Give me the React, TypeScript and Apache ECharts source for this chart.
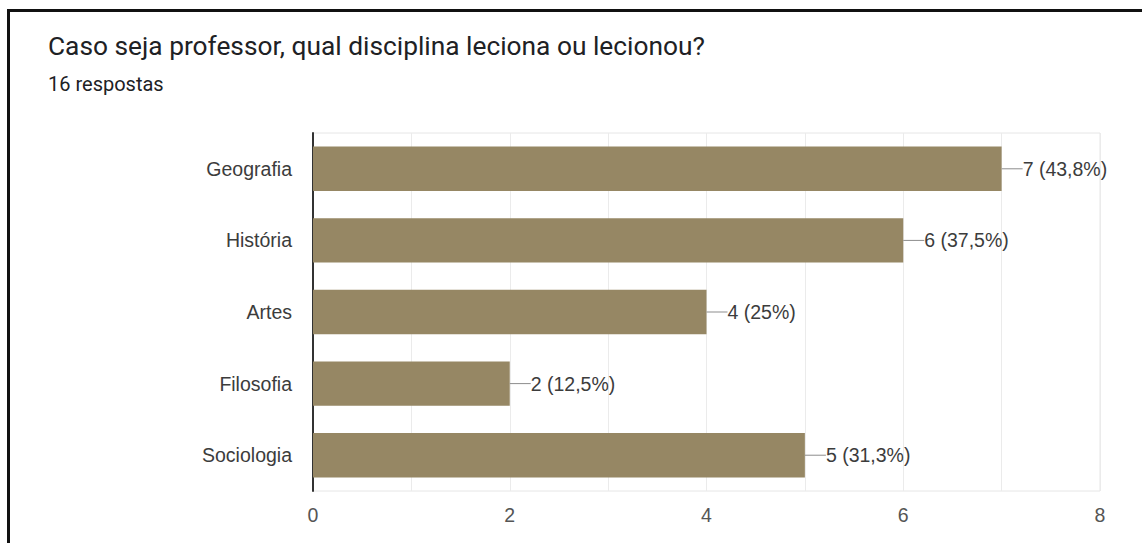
import React, { useEffect, useRef } from "react";
import * as echarts from "echarts";

const titleText = "Caso seja professor, qual disciplina leciona ou lecionou?";
const subtitleText = "16 respostas";
const categories = ["Geografia", "História", "Artes", "Filosofia", "Sociologia"];
const values = [7, 6, 4, 2, 5];
const percentLabels = ["43,8%", "37,5%", "25%", "12,5%", "31,3%"];
const xTicks = [0, 2, 4, 6, 8];

export default function App() {
  const ref = useRef<HTMLDivElement>(null);
  useEffect(() => {
    document.body.style.margin = "0";
    if (!ref.current) return;
    const chart = echarts.init(ref.current, undefined, { renderer: "svg" });
    const labelFont = "'Liberation Sans', Arial, sans-serif";
    chart.setOption({
      animation: false,
      backgroundColor: "#ffffff",
      title: [
        {
          text: titleText,
          left: 43,
          top: 28,
          textStyle: { fontFamily: "Roboto", fontSize: 26.3, fontWeight: "normal", color: "#202124" },
        },
        {
          text: subtitleText,
          left: 43,
          top: 69,
          textStyle: { fontFamily: "Roboto", fontSize: 20, fontWeight: "normal", color: "#202124" },
        },
      ],
      graphic: [
        {
          type: "rect",
          shape: { x: 8.5, y: 10.5, width: 2000, height: 2000 },
          style: { fill: "none", stroke: "#111111", lineWidth: 3 },
          silent: true,
        },
      ],
      grid: {
        left: 313,
        right: 42,
        top: 133,
        bottom: 52,
        show: true,
        borderColor: "#e6e6e6",
        borderWidth: 1,
      },
      xAxis: {
        type: "value",
        min: 0,
        max: 8,
        interval: 1,
        axisLine: { show: false },
        axisTick: { show: false },
        splitLine: { show: true, lineStyle: { color: "#ebebeb", width: 1 } },
        axisLabel: {
          margin: 14,
          fontFamily: labelFont,
          fontSize: 19.5,
          color: "#555555",
          formatter: (v: number) => (xTicks.includes(v) ? String(v) : ""),
        },
      },
      yAxis: {
        type: "category",
        inverse: true,
        data: categories,
        axisLine: { show: true, lineStyle: { color: "#333333", width: 2 } },
        axisTick: { show: false },
        axisLabel: { margin: 21, fontFamily: labelFont, fontSize: 19.5, color: "#3c3c3c" },
      },
      series: [
        {
          type: "bar",
          data: values,
          barCategoryGap: "38%",
          itemStyle: { color: "#968764" },
          label: {
            show: true,
            position: "right",
            distance: 0,
            formatter: (p: any) => `{l|}{t|${values[p.dataIndex]} (${percentLabels[p.dataIndex]})}`,
            rich: {
              l: { width: 21, height: 1, backgroundColor: "#8c8c8c" },
              t: { fontFamily: labelFont, fontSize: 19.5, color: "#3c3c3c" },
            },
          },
        },
      ],
    });
    return () => chart.dispose();
  }, []);
  return <div ref={ref} style={{ width: 1142, height: 543 }} />;
}
